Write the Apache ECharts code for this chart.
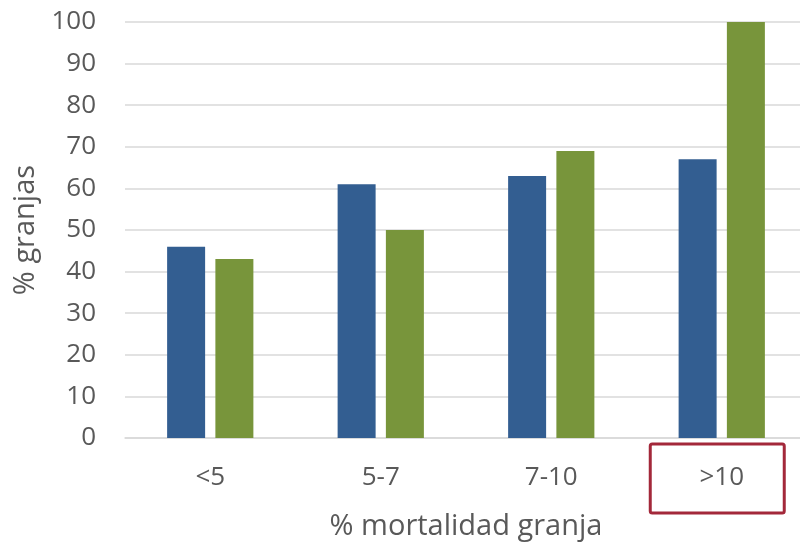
<!DOCTYPE html>
<html><head><meta charset="utf-8">
<script src="https://cdn.jsdelivr.net/npm/echarts@6/dist/echarts.min.js"></script>
<style>html,body{margin:0;padding:0;background:#fff}#c{width:800px;height:547px}</style>
</head><body><div id="c"></div>
<script>
const categories = ['<5', '5-7', '7-10', '>10'];
const seriesA = [46, 61, 63, 67];
const seriesB = [43, 50, 69, 100];
const yTicks = {min: 0, max: 100, interval: 10};
const highlighted = '>10';

const FONT = '"Open Sans", sans-serif';
const TXT = '#595959';
const chart = echarts.init(document.getElementById('c'), null, {renderer: 'canvas'});
chart.setOption({
  animation: false,
  backgroundColor: '#fff',
  grid: {left: 125, width: 682, top: 22, bottom: 109, containLabel: false, outerBoundsMode: 'none'},
  xAxis: {
    type: 'category', data: categories,
    axisLine: {show: true, lineStyle: {color: '#d9d9d9', width: 1.5}},
    axisTick: {show: false},
    axisLabel: {color: TXT, fontFamily: FONT, fontSize: 26, margin: 27},
    name: '% mortalidad granja', nameLocation: 'middle', nameGap: 74,
    nameTextStyle: {color: TXT, fontFamily: FONT, fontSize: 29}
  },
  yAxis: {
    type: 'value', min: yTicks.min, max: yTicks.max, interval: yTicks.interval,
    splitLine: {lineStyle: {color: '#d9d9d9', width: 1.5}},
    axisLine: {show: false}, axisTick: {show: false},
    axisLabel: {color: TXT, fontFamily: FONT, fontSize: 26, margin: 29},
    name: '% granjas', nameLocation: 'middle', nameGap: 84, nameRotate: 90,
    nameTextStyle: {color: TXT, fontFamily: FONT, fontSize: 29}
  },
  series: [
    {type: 'bar', data: seriesA, barWidth: 38, barGap: '27%', itemStyle: {color: '#335e91'}},
    {type: 'bar', data: seriesB, barWidth: 38, itemStyle: {color: '#78953b'}}
  ]
});
const cx = chart.convertToPixel({xAxisIndex: 0}, highlighted);
const y0 = chart.convertToPixel({yAxisIndex: 0}, 0);
chart.setOption({
  graphic: [{
    type: 'rect', shape: {x: cx - 71.5, y: y0 + 6, width: 134, height: 69, r: 2},
    style: {fill: 'none', stroke: '#a3283a', lineWidth: 3}
  }]
});
</script></body></html>
